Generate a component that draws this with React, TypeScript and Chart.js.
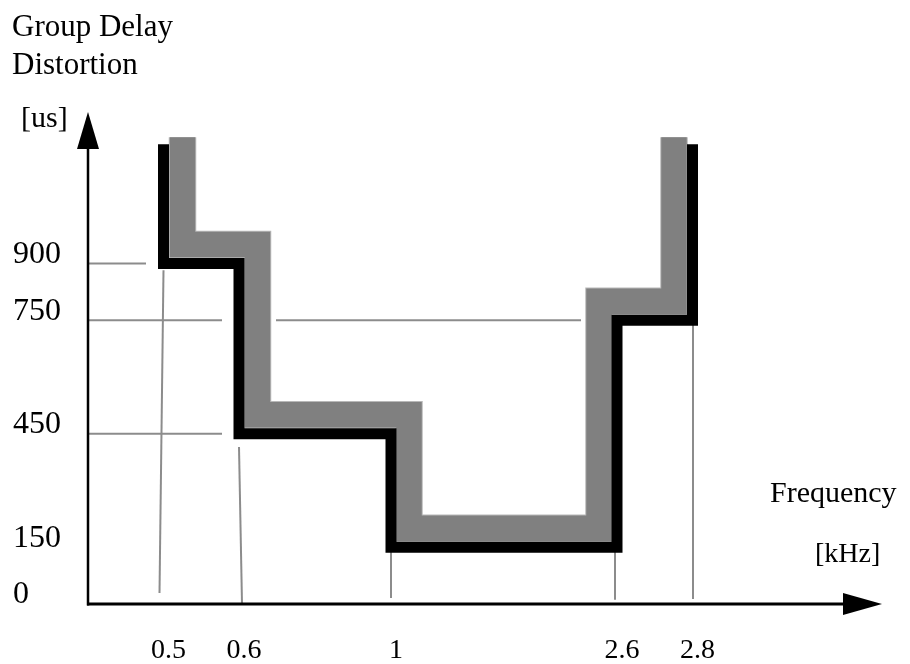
import React, { useEffect, useRef } from 'react';
import { Chart, registerables } from 'chart.js';

Chart.register(...registerables);

// Frequency axis (schematic, not to scale): tick labels and their positions
const freqLabels = ['0.5', '0.6', '1', '2.6', '2.8'];
const freqPos = [75.5, 151, 303, 529, 604.5];

// Group delay ticks [us]
const delayTicks = [0, 150, 450, 750, 900];

// Limit mask (black step line)
const maskX = [75.5, 75.5, 151, 151, 303, 303, 529, 529, 604.5, 604.5];
const maskY = [1215, 900, 900, 450, 450, 150, 150, 750, 750, 1215];

// Measured response band (gray step line)
const respX = [94.5, 94.5, 169.5, 169.5, 321, 321, 511, 511, 586, 586];
const respY = [1233, 950, 950, 500, 500, 200, 200, 800, 800, 1233];

// Thin guide lines: start x, start y, end x, end y
const guideX1 = [0, 0, 188, 0, 75.5, 151, 303, 527, 605];
const guideY1 = [900, 750, 750, 450, 882, 415, 150, 145, 750];
const guideX2 = [58, 134, 493, 134, 71.5, 154, 303, 527, 605];
const guideY2 = [900, 750, 750, 450, 29, 0, 16, 11, 13];

const SERIF = "'Liberation Serif', 'Times New Roman', serif";

const toPts = (xs: number[], ys: number[]) => xs.map((x, i) => ({ x, y: ys[i] }));

export default function App() {
  const ref = useRef<HTMLCanvasElement | null>(null);

  useEffect(() => {
    if (!ref.current) return;

    const decor = {
      id: 'decor',
      afterDatasetsDraw(chart: any) {
        const { ctx, chartArea } = chart;
        const { left, right, top, bottom } = chartArea;
        ctx.save();
        ctx.fillStyle = '#000';
        ctx.strokeStyle = '#000';
        // y axis
        ctx.lineWidth = 2.5;
        ctx.beginPath();
        ctx.moveTo(left, bottom + 1.5);
        ctx.lineTo(left, top + 36);
        ctx.stroke();
        ctx.beginPath();
        ctx.moveTo(left, top);
        ctx.lineTo(left - 11, top + 37);
        ctx.lineTo(left + 11, top + 37);
        ctx.closePath();
        ctx.fill();
        // x axis
        ctx.lineWidth = 3;
        ctx.beginPath();
        ctx.moveTo(left - 1, bottom);
        ctx.lineTo(right - 38, bottom);
        ctx.stroke();
        ctx.beginPath();
        ctx.moveTo(right, bottom);
        ctx.lineTo(right - 39, bottom - 11);
        ctx.lineTo(right - 39, bottom + 11);
        ctx.closePath();
        ctx.fill();
        // texts
        ctx.textBaseline = 'alphabetic';
        ctx.textAlign = 'left';
        ctx.font = `31px ${SERIF}`;
        ctx.fillText('Group Delay', 12, 36);
        ctx.fillText('Distortion', 12, 74);
        ctx.font = `30px ${SERIF}`;
        ctx.fillText('[us]', 21, 127);
        ctx.fillText('Frequency', 770, 502);
        ctx.font = `28px ${SERIF}`;
        ctx.fillText('[kHz]', 815, 562);
        ctx.restore();
      },
    };

    const lineBase = {
      type: 'line' as const,
      pointRadius: 0,
      tension: 0,
      fill: false,
      borderJoinStyle: 'miter' as const,
      borderCapStyle: 'butt' as const,
      clip: false as any,
    };

    const guides = guideX1.map((x1, i) => ({
      ...lineBase,
      label: `guide${i}`,
      data: [
        { x: x1, y: guideY1[i] },
        { x: guideX2[i], y: guideY2[i] },
      ],
      borderColor: '#8c8c8c',
      borderWidth: 2,
      order: 5,
    }));

    const chart = new Chart(ref.current, {
      type: 'line',
      data: {
        datasets: [
          {
            ...lineBase,
            label: 'Limit mask',
            data: toPts(maskX, maskY),
            borderColor: '#000000',
            borderWidth: 11,
            order: 1,
          },
          {
            ...lineBase,
            label: 'Response',
            data: toPts(respX, respY),
            borderColor: '#808080',
            borderWidth: 25.5,
            order: 2,
          },
          {
            ...lineBase,
            label: 'Response edge',
            data: toPts(respX, respY),
            borderColor: '#b8b8b8',
            borderWidth: 27.5,
            order: 3,
          },
          ...guides,
        ] as any,
      },
      options: {
        responsive: false,
        animation: false,
        devicePixelRatio: 1,
        layout: { padding: { left: 13, top: 112, right: 28, bottom: 0 } },
        plugins: {
          legend: { display: false },
          tooltip: { enabled: false },
          title: { display: false },
        },
        scales: {
          x: {
            type: 'linear',
            min: 0,
            max: 794,
            grid: { display: false },
            border: { display: false },
            afterBuildTicks: (s: any) => {
              s.ticks = freqPos.map((v) => ({ value: v }));
            },
            afterFit: (s: any) => {
              s.height = 60;
            },
            ticks: {
              autoSkip: false,
              maxRotation: 0,
              padding: 22,
              labelOffset: 5,
              color: '#000',
              font: { family: SERIF, size: 28 },
              callback: (_v: any, i: number) => freqLabels[i],
            },
          },
          y: {
            type: 'linear',
            min: 0,
            max: 1300,
            grid: { display: false },
            border: { display: false },
            afterBuildTicks: (s: any) => {
              s.ticks = delayTicks.map((v) => ({ value: v }));
            },
            afterFit: (s: any) => {
              s.width = 75;
            },
            ticks: {
              autoSkip: false,
              crossAlign: 'far',
              labelOffset: -9,
              color: '#000',
              font: { family: SERIF, size: 32 },
              callback: (v: any) => String(v),
            },
          },
        },
      },
      plugins: [decor],
    });

    return () => chart.destroy();
  }, []);

  return (
    <div style={{ position: 'absolute', left: 0, top: 0, width: 910, height: 664, background: '#fff' }}>
      <canvas ref={ref} width={910} height={664} style={{ display: 'block' }} />
    </div>
  );
}
